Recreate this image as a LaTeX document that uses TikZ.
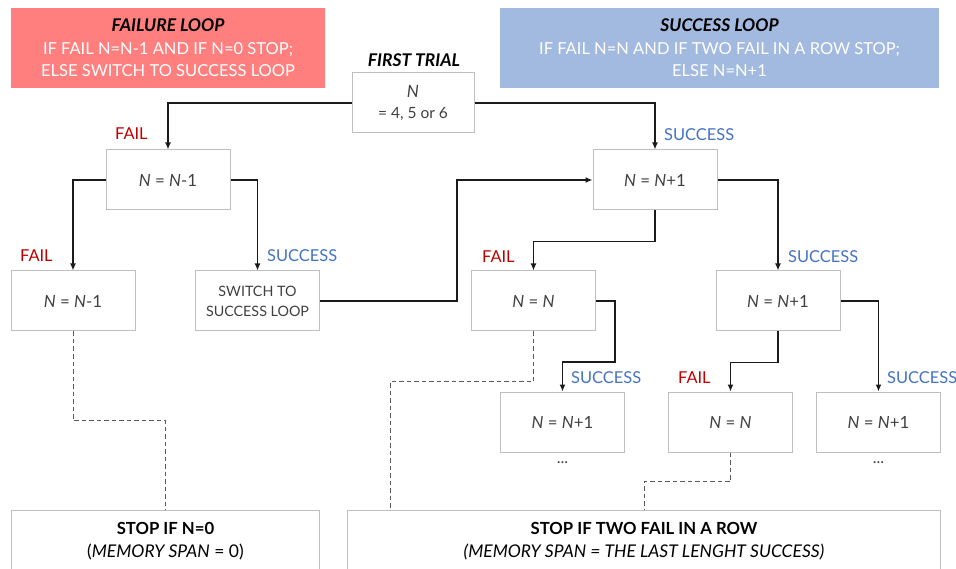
\documentclass[tikz,border=0pt]{standalone}
\usepackage{fontspec}
\setmainfont{Lato}
\usetikzlibrary{arrows.meta,calc}
\definecolor{failfill}{HTML}{FF7F7F}
\definecolor{succfill}{HTML}{A3BAE0}
\definecolor{failred}{HTML}{C00000}
\definecolor{succblue}{HTML}{4472C4}
\definecolor{boxgray}{HTML}{BFBFBF}
\definecolor{txtgray}{HTML}{404040}
\definecolor{dashgray}{HTML}{595959}
\definecolor{linecol}{HTML}{1A1A1A}
\tikzset{
  stepbox/.style={draw=boxgray, line width=1pt, minimum width=124pt, minimum height=60pt,
    inner sep=0pt, align=center, text=txtgray, font=\fontsize{16.8}{21}\selectfont},
  headbox/.style={draw=none, minimum height=80pt, inner sep=0pt, align=center,
    text=white, font=\fontsize{16.5}{22.5}\selectfont},
  stopbox/.style={draw=boxgray, line width=1pt, minimum height=62pt, inner sep=0pt,
    align=center, text=black, font=\fontsize{16.7}{23}\selectfont, anchor=north west},
  flow/.style={draw=linecol, line width=1.5pt, -{Latex[length=7pt,width=6pt]}},
  dash line/.style={draw=dashgray, line width=0.9pt, dash pattern=on 4.5pt off 3pt},
  faillbl/.style={text=failred, font=\fontsize{16.4}{20}\selectfont, inner sep=0pt, anchor=west},
  succlbl/.style={text=succblue, font=\fontsize{16.4}{20}\selectfont, inner sep=0pt, anchor=west},
  bi/.style={font=\fontsize{17.5}{20}\selectfont\bfseries\itshape},
}
\begin{document}
\begin{tikzpicture}[x=1pt,y=-1pt]
\useasboundingbox (0,0) rectangle (956,569);

% header boxes
\node[headbox, fill=failfill, minimum width=314pt] (failhead) at (168,48)
  {\textcolor{black}{\fontsize{17.5}{22.5}\selectfont\textbf{\textit{FAILURE LOOP}}}\\IF FAIL N=N-1 AND IF N=0 STOP;\\ELSE SWITCH TO SUCCESS LOOP};
\node[headbox, fill=succfill, minimum width=439pt] (succhead) at (719.5,48)
  {\textcolor{black}{\fontsize{17.5}{22.5}\selectfont\textbf{\textit{SUCCESS LOOP}}}\\IF FAIL N=N AND IF TWO FAIL IN A ROW STOP;\\ELSE N=N+1};

% first trial
\node[bi, inner sep=0pt] (ftlabel) at (414,60) {FIRST TRIAL};
\node[stepbox, minimum width=122pt, font=\fontsize{15.5}{20.5}\selectfont] (first) at (413,103)
  {{\fontsize{17}{20}\selectfont\textit{N}}\\= 4, 5 or 6};

% failure side
\node[stepbox] (A) at (168,180) {\textit{N} = \textit{N}-1};
\node[stepbox] (B) at (73,301) {\textit{N} = \textit{N}-1};
\node[stepbox, font=\fontsize{14.3}{20}\selectfont] (C) at (257.5,301) {SWITCH TO\\SUCCESS LOOP};

% success side
\node[stepbox] (D) at (655,180) {\textit{N} = \textit{N}+1};
\node[stepbox] (E) at (533.5,301) {\textit{N} = \textit{N}};
\node[stepbox] (F) at (778,301) {\textit{N} = \textit{N}+1};
\node[stepbox] (G) at (562.5,422) {\textit{N} = \textit{N}+1};
\node[stepbox] (H) at (730.5,422) {\textit{N} = \textit{N}};
\node[stepbox] (I) at (878.5,422) {\textit{N} = \textit{N}+1};
\node[text=txtgray, font=\fontsize{16}{20}\selectfont, inner sep=0pt] (Gdots) at (562.5,463) {...};
\node[text=txtgray, font=\fontsize{16}{20}\selectfont, inner sep=0pt] (Idots) at (878.5,463) {...};

% stop boxes
\node[stopbox, minimum width=308pt] (S1) at (11,510)
  {\textbf{STOP IF N=0}\\{\fontsize{17.5}{23}\selectfont(\textit{MEMORY SPAN} = 0)}};
\node[stopbox, minimum width=593pt] (S2) at (347,510)
  {\textbf{STOP IF TWO FAIL IN A ROW}\\{\fontsize{17.5}{23}\selectfont\textit{(MEMORY SPAN = THE LAST LENGHT SUCCESS)}}};

% labels
\node[faillbl] (l1) at (115,134) {FAIL};
\node[succlbl] (l2) at (664,135) {SUCCESS};
\node[faillbl] (l3) at (20,256) {FAIL};
\node[succlbl] (l4) at (267,256) {SUCCESS};
\node[faillbl] (l5) at (482,257) {FAIL};
\node[succlbl] (l6) at (788,257) {SUCCESS};
\node[succlbl] (l7) at (571,378) {SUCCESS};
\node[faillbl] (l8) at (678,378) {FAIL};
\node[succlbl] (l9) at (887,378) {SUCCESS};

% helper coordinates
\coordinate (j1) at (457,0);
\coordinate (j2) at (390,0);

% connectors
\draw[flow] (first.west) -| (A.north);
\draw[flow] (first.east) -| (D.north);
\draw[flow] (A.west) -| (B.north);
\draw[flow] (A.east) -| (C.north);
\draw[flow] (C.east) -- (C.east -| j1) |- (D.west);
\draw[flow] (D.south) -- ++(0,31) -| (E.north);
\draw[flow] (D.east) -| (F.north);
\draw[flow] (E.east) -- ++(19,0) -- ++(0,61) -| (G.north);
\draw[flow] (F.south) -- ++(0,31) -| (H.north);
\draw[flow] (F.east) -| (I.north);

% dashed
\draw[dash line] (B.south) -- ++(0,89) -| (S1.north);
\draw[dash line] (E.south) -- ++(0,50) -| (S2.north -| j2);
\draw[dash line] (H.south) -- ++(0,29) -| (S2.north);
\end{tikzpicture}
\end{document}
